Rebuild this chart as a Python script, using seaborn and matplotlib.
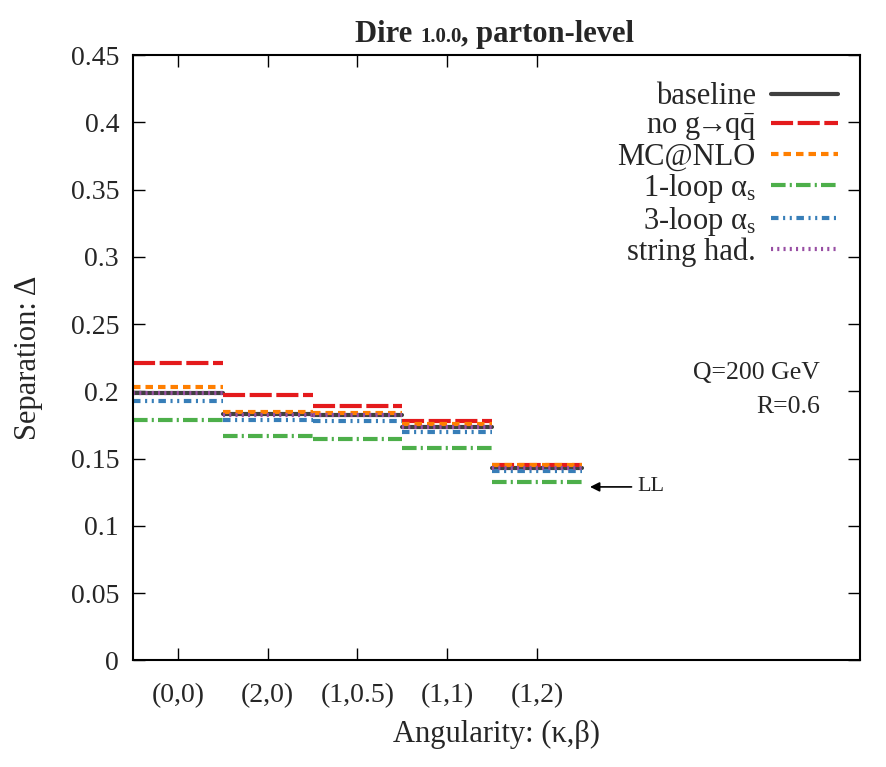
import numpy as np
import pandas as pd
import matplotlib
matplotlib.use("Agg")
import matplotlib.pyplot as plt
from matplotlib.lines import Line2D
import seaborn as sns

# --- DATA ---
categories = ["(0,0)", "(2,0)", "(1,0.5)", "(1,1)", "(1,2)"]
baseline = [0.1987, 0.1829, 0.1824, 0.1735, 0.1431]
no_g2qq = [0.2209, 0.1977, 0.1888, 0.1779, 0.1450]
mcatnlo = [0.2036, 0.1849, 0.1838, 0.1760, 0.1453]
one_loop = [0.1789, 0.1665, 0.1648, 0.1576, 0.1327]
three_loop = [0.1932, 0.1784, 0.1779, 0.1698, 0.1408]
string_had = [0.1985, 0.1827, 0.1822, 0.1733, 0.1429]
ll_level = 0.129

series_names = ["baseline", "no g$\\!\\!\\rightarrow\\!\\!$q$\\bar{\\mathrm{q}}$", "MC@NLO",
                "1-loop \u03b1$_{\\mathrm{s}}$", "3-loop \u03b1$_{\\mathrm{s}}$", "string had."]
series_values = [baseline, no_g2qq, mcatnlo, one_loop, three_loop, string_had]

# --- STYLE ---
colors = ["#404040", "#e41a1c", "#ff7f00", "#4daf4a", "#377eb8", "#984ea3"]
linestyles = ["-", (0, (5.3, 1.1)), (0, (1.8, 1.2)), (0, (3.5, 1.0, 0.5, 1.0)),
              (0, (1.8, 1.1, 0.5, 1.1, 0.5, 1.1)), (0, (0.5, 1.0))]

sns.set_style("ticks")
plt.rcParams["font.family"] = ["Liberation Serif", "DejaVu Serif"]
plt.rcParams["mathtext.fontset"] = "custom"
plt.rcParams["mathtext.rm"] = "Liberation Serif"
plt.rcParams["mathtext.it"] = "Liberation Serif:italic"

fig = plt.figure(figsize=(8.86, 7.67), dpi=100)
ax = fig.add_axes([0.150, 0.139, 0.821, 0.789])

# each category is a flat step of width 1 around its tick
handles = []
for name, vals, col, ls in zip(series_names, series_values, colors, linestyles):
    rows = []
    for i, v in enumerate(vals):
        rows.append({"x": i - 0.5, "value": v, "seg": i})
        rows.append({"x": i + 0.5, "value": v, "seg": i})
    df = pd.DataFrame(rows)
    sns.lineplot(data=df, x="x", y="value", units="seg", estimator=None,
                 color=col, linewidth=3, linestyle=ls, ax=ax, legend=False)
    handles.append(Line2D([], [], color=col, linewidth=3, linestyle=ls))

ax.set_xlim(-0.5, 7.6)
ax.set_ylim(0, 0.45)
ax.set_xticks(range(len(categories)))
ax.set_xticklabels(categories)
yt = np.round(np.arange(0, 0.451, 0.05), 2)
ax.set_yticks(yt)
ax.set_yticklabels([f"{t:g}" for t in yt])
ax.tick_params(direction="in", length=8.5, width=1, top=True, right=True,
               labelsize=20, color="black")
ax.tick_params(axis="x", pad=16)
ax.tick_params(axis="y", pad=10)
for sp in ax.spines.values():
    sp.set_visible(True)
    sp.set_linewidth(1.5)
    sp.set_color("black")

ax.set_xlabel("Angularity: (\u03ba,\u03b2)", fontsize=22, labelpad=9)
ax.set_ylabel("Separation: \u0394", fontsize=22, labelpad=20)

leg = ax.legend(handles, series_names, loc="upper right", bbox_to_anchor=(0.970, 0.955),
                frameon=False, markerfirst=False, fontsize=22, handlelength=2.22,
                handletextpad=0.49, labelspacing=0.0, borderpad=0, borderaxespad=0)
for t in leg.get_texts():
    t.set_ha("right")

ax.text(0.945, 0.465, "Q=200 GeV", transform=ax.transAxes, ha="right",
        va="baseline", fontsize=18.5)
ax.text(0.945, 0.409, "R=0.6", transform=ax.transAxes, ha="right",
        va="baseline", fontsize=18.5)

ax.annotate("LL", xy=(4.59, ll_level), xytext=(5.12, ll_level), va="center",
            ha="left", fontsize=16,
            arrowprops=dict(arrowstyle="-|>", color="black", lw=1.2,
                            mutation_scale=14, shrinkA=2, shrinkB=0))

# title with a smaller version number, all pieces on one baseline
renderer = fig.canvas.get_renderer()
title_y = 0.945
x_pos = 0.4007
for piece, size in [("Dire ", 22), ("1.0.0", 15), (", parton-level", 22)]:
    t = fig.text(x_pos, title_y, piece, fontsize=size, fontweight="bold",
                 va="baseline", ha="left")
    x_pos += t.get_window_extent(renderer).width / fig.bbox.width

fig.savefig("out.png", dpi=100)
